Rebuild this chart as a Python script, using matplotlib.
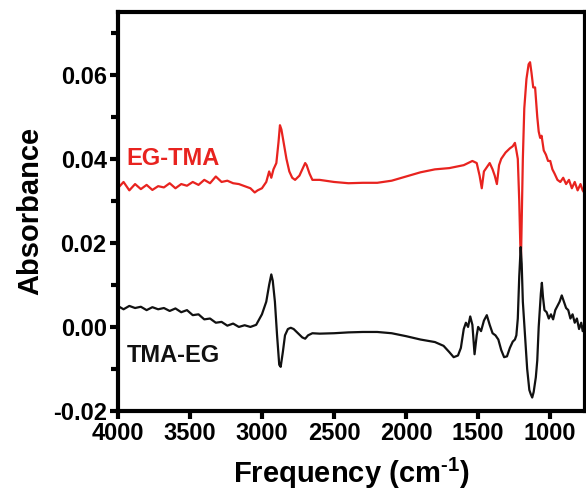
import matplotlib
matplotlib.use("Agg")
import matplotlib.pyplot as plt
from matplotlib.ticker import MultipleLocator

plt.rcParams['font.family'] = ['Liberation Sans', 'DejaVu Sans']
plt.rcParams['font.weight'] = 'bold'
plt.rcParams['mathtext.fontset'] = 'custom'
plt.rcParams['mathtext.rm'] = 'Liberation Sans:bold'
plt.rcParams['mathtext.bf'] = 'Liberation Sans:bold'
plt.rcParams['mathtext.it'] = 'Liberation Sans:bold'

# EG-TMA (red) spectrum
red_freq = [4000, 3960, 3920, 3880, 3840, 3800, 3760, 3720, 3680, 3640, 3600, 3560, 3520, 3480,
            3440, 3400, 3360, 3320, 3280, 3240, 3200, 3160, 3120, 3080, 3050, 3030, 3000, 2970,
            2950, 2935, 2920, 2900, 2885, 2875, 2865, 2850, 2830, 2810, 2790, 2770, 2740, 2720,
            2700, 2690, 2670, 2650, 2600, 2500, 2400, 2300, 2200, 2100, 2000, 1900, 1800, 1700,
            1600, 1540, 1510, 1490, 1475, 1460, 1440, 1420, 1400, 1385, 1370, 1355, 1340, 1310,
            1280, 1260, 1245, 1235, 1225, 1215, 1208, 1203, 1198, 1190, 1180, 1165, 1150, 1140,
            1130, 1118, 1105, 1090, 1080, 1070, 1060, 1045, 1030, 1015, 1000, 985, 970, 950, 930,
            910, 890, 870, 850, 830, 810, 790, 775, 765, 760]
red_abs = [0.0330, 0.0345, 0.0325, 0.0340, 0.0328, 0.0338, 0.0326, 0.0335, 0.0332, 0.0342, 0.0330,
           0.0340, 0.0336, 0.0345, 0.0338, 0.0350, 0.0342, 0.0358, 0.0345, 0.0348, 0.0342, 0.0340,
           0.0335, 0.0330, 0.0320, 0.0325, 0.0330, 0.0345, 0.0370, 0.0355, 0.0375, 0.0390, 0.0440,
           0.0480, 0.0470, 0.0440, 0.0400, 0.0370, 0.0355, 0.0350, 0.0360, 0.0375, 0.0390, 0.0385,
           0.0365, 0.0350, 0.0350, 0.0345, 0.0342, 0.0343, 0.0343, 0.0348, 0.0358, 0.0368, 0.0375,
           0.0378, 0.0385, 0.0395, 0.0390, 0.0360, 0.0330, 0.0370, 0.0380, 0.0390, 0.0375, 0.0360,
           0.0340, 0.0385, 0.0400, 0.0415, 0.0425, 0.0430, 0.0438, 0.0420, 0.0400, 0.0300, 0.0200,
           0.0160, 0.0250, 0.0400, 0.0520, 0.0590, 0.0625, 0.0630, 0.0605, 0.0570, 0.0570, 0.0500,
           0.0465, 0.0450, 0.0455, 0.0420, 0.0410, 0.0395, 0.0395, 0.0375, 0.0365, 0.0350, 0.0345,
           0.0355, 0.0340, 0.0350, 0.0330, 0.0345, 0.0325, 0.0340, 0.0325, 0.0320, 0.0360]

# TMA-EG (black) spectrum
black_freq = [4000, 3960, 3920, 3880, 3840, 3800, 3760, 3720, 3680, 3640, 3600, 3560, 3520, 3480,
              3440, 3400, 3360, 3320, 3280, 3240, 3200, 3160, 3120, 3080, 3040, 3000, 2970, 2950,
              2935, 2925, 2910, 2895, 2880, 2870, 2855, 2840, 2820, 2800, 2780, 2750, 2720, 2700,
              2680, 2650, 2600, 2500, 2400, 2300, 2200, 2100, 2000, 1900, 1800, 1740, 1700, 1670,
              1640, 1620, 1600, 1585, 1570, 1555, 1540, 1525, 1510, 1500, 1480, 1460, 1440, 1420,
              1400, 1380, 1360, 1340, 1320, 1300, 1280, 1260, 1245, 1235, 1225, 1215, 1205, 1198,
              1190, 1175, 1160, 1145, 1135, 1125, 1115, 1100, 1090, 1080, 1065, 1058, 1050, 1040,
              1025, 1010, 995, 980, 965, 950, 935, 920, 905, 890, 875, 860, 845, 830, 815, 800,
              785, 775, 765, 760]
black_abs = [0.0050, 0.0042, 0.0050, 0.0045, 0.0048, 0.0040, 0.0047, 0.0042, 0.0045, 0.0038, 0.0044,
             0.0035, 0.0040, 0.0028, 0.0030, 0.0018, 0.0020, 0.0010, 0.0012, 0.0003, 0.0008, 0.0000,
             0.0004, 0.0000, 0.0005, 0.0030, 0.0060, 0.0100, 0.0125, 0.0110, 0.0060, -0.0020, -0.0090,
             -0.0095, -0.0060, -0.0020, -0.0005, -0.0002, -0.0005, -0.0015, -0.0025, -0.0028, -0.0020,
             -0.0015, -0.0016, -0.0015, -0.0013, -0.0012, -0.0012, -0.0015, -0.0022, -0.0030, -0.0036,
             -0.0045, -0.0060, -0.0072, -0.0068, -0.0050, -0.0005, 0.0010, 0.0000, 0.0025, 0.0005,
             -0.0065, -0.0020, 0.0000, -0.0010, 0.0015, 0.0028, 0.0005, -0.0015, -0.0020, -0.0030,
             -0.0055, -0.0072, -0.0070, -0.0050, -0.0035, -0.0030, -0.0020, 0.0020, 0.0120, 0.0190,
             0.0150, 0.0060, -0.0020, -0.0100, -0.0150, -0.0160, -0.0168, -0.0155, -0.0120, -0.0080,
             0.0000, 0.0080, 0.0105, 0.0070, 0.0040, 0.0035, 0.0020, 0.0030, 0.0018, 0.0040, 0.0050,
             0.0060, 0.0075, 0.0060, 0.0045, 0.0040, 0.0020, 0.0030, 0.0010, 0.0020, -0.0005, 0.0010,
             -0.0010, 0.0005, 0.0015]

x_ticks = [4000, 3500, 3000, 2500, 2000, 1500, 1000]
y_ticks = [-0.02, 0.00, 0.02, 0.04, 0.06]
y_tick_labels = ["-0.02", "0.00", "0.02", "0.04", "0.06"]
red_label = "EG-TMA"
black_label = "TMA-EG"

fig = plt.figure(figsize=(5.86, 4.91), dpi=100)
ax = fig.add_axes([0.201, 0.163, 0.797, 0.813])

ax.plot(red_freq, red_abs, color='#e8231f', lw=1.6)
ax.plot(black_freq, black_abs, color='#111111', lw=1.6)

ax.set_xlim(4000, 760)
ax.set_ylim(-0.02, 0.075)
ax.set_xticks(x_ticks)
ax.set_xticklabels([str(v) for v in x_ticks])
ax.set_yticks(y_ticks)
ax.set_yticklabels(y_tick_labels)
ax.yaxis.set_minor_locator(MultipleLocator(0.01))

for s in ax.spines.values():
    s.set_linewidth(3)
ax.tick_params(axis='both', which='major', direction='out', length=6, width=3,
               labelsize=17, pad=2, top=False, right=False)
ax.tick_params(axis='y', which='minor', direction='out', length=5, width=3)
for lab in ax.get_xticklabels() + ax.get_yticklabels():
    lab.set_fontweight('bold')

ax.set_ylabel("Absorbance", fontsize=21, fontweight='bold', labelpad=6)
ax.set_xlabel(r"Frequency (cm$^{\text{-1}}$)", fontsize=21, fontweight='bold', labelpad=8)

ax.text(3940, 0.040, red_label, color='#e8231f', fontsize=17, fontweight='bold', va='center', ha='left')
ax.text(3940, -0.0067, black_label, color='#111111', fontsize=17, fontweight='bold', va='center', ha='left')

fig.savefig("out.png", dpi=100)
